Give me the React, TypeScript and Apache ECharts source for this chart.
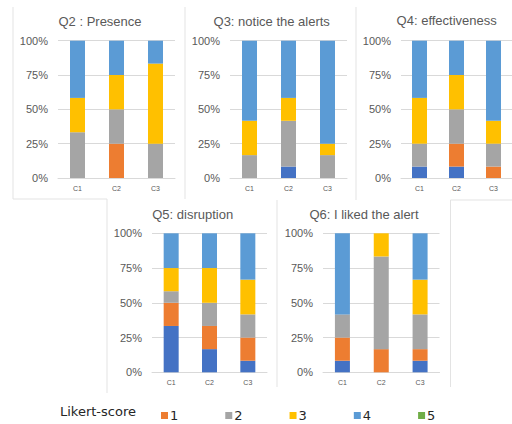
import React, { useEffect, useRef } from "react";
import * as echarts from "echarts";

const categories = ["C1", "C2", "C3"];
const scoreNames = ["0", "1", "2", "3", "4", "5"];
const legendNames = ["1", "2", "3", "4", "5"];
const scoreColors = ["#4472C4", "#ED7D31", "#A5A5A5", "#FFC000", "#5B9BD5", "#70AD47"];
const yTicks = [0, 25, 50, 75, 100];

const titles = ["Q2 : Presence", "Q3: notice the alerts", "Q4: effectiveness", "Q5: disruption", "Q6: I liked the alert"];

// rows: score 0 (dark blue), 1, 2, 3, 4, 5 ; columns: C1, C2, C3 (percent)
const q2 = [
  [0, 0, 0],
  [0, 25, 0],
  [33.33, 25, 25],
  [25, 25, 58.33],
  [41.67, 25, 16.67],
  [0, 0, 0],
];
const q3 = [
  [0, 8.33, 0],
  [0, 0, 0],
  [16.67, 33.33, 16.67],
  [25, 16.67, 8.33],
  [58.33, 41.67, 75],
  [0, 0, 0],
];
const q4 = [
  [8.33, 8.33, 0],
  [0, 16.67, 8.33],
  [16.67, 25, 16.67],
  [33.33, 25, 16.67],
  [41.67, 25, 58.33],
  [0, 0, 0],
];
const q5 = [
  [33.33, 16.67, 8.33],
  [16.67, 16.67, 16.67],
  [8.33, 16.67, 16.67],
  [16.67, 25, 25],
  [25, 25, 33.33],
  [0, 0, 0],
];
const q6 = [
  [8.33, 0, 8.33],
  [16.67, 16.67, 8.33],
  [16.67, 66.67, 25],
  [0, 16.67, 25],
  [58.33, 0, 33.33],
  [0, 0, 0],
];
const questions = [q2, q3, q4, q5, q6];

const grids = [
  { left: 58, top: 40.7, width: 117, height: 137.3 },
  { left: 230, top: 40.7, width: 117, height: 137.3 },
  { left: 401, top: 40.7, width: 115.5, height: 137.3 },
  { left: 152, top: 233.3, width: 115, height: 139 },
  { left: 323, top: 233.3, width: 116.5, height: 139 },
];
const titlePos = [
  { x: 100, y: 21 },
  { x: 271.7, y: 21 },
  { x: 446.7, y: 20 },
  { x: 192.7, y: 214 },
  { x: 364, y: 214 },
];

const FONT = "Liberation Sans";
const LEGEND_FONT = "DejaVu Sans";
const borderColor = "#e3e3e3";

export default function App() {
  const ref = useRef<HTMLDivElement>(null);
  useEffect(() => {
    document.body.style.margin = "0";
    if (!ref.current) return;
    const chart = echarts.init(ref.current, null, { renderer: "svg" });

    const series: any[] = [];
    questions.forEach((q, qi) => {
      q.forEach((row, si) => {
        series.push({
          name: scoreNames[si],
          type: "bar",
          stack: "q" + qi,
          xAxisIndex: qi,
          yAxisIndex: qi,
          barWidth: 15,
          data: row,
          itemStyle: { color: scoreColors[si] },
          emphasis: { disabled: true },
        });
      });
    });

    const lines = [
      [13, 7, 13, 199],
      [13, 199, 107, 199],
      [185, 7, 185, 199],
      [356, 7, 356, 200],
      [107, 199, 107, 393],
      [277, 200, 277, 387],
      [450.5, 200, 450.5, 387],
      [450.5, 200, 512, 200],
    ];

    const graphic: any[] = lines.map((l) => ({
      type: "line",
      shape: { x1: l[0], y1: l[1], x2: l[2], y2: l[3] },
      style: { stroke: borderColor, lineWidth: 1 },
      silent: true,
    }));
    titles.forEach((t, i) => {
      graphic.push({
        type: "text",
        x: titlePos[i].x,
        y: titlePos[i].y,
        style: {
          text: t,
          fill: "#595959",
          fontSize: 13,
          fontFamily: FONT,
          align: "center",
          verticalAlign: "middle",
        },
      });
    });
    graphic.push({
      type: "text",
      x: 60,
      y: 411,
      style: {
        text: "Likert-score",
        fill: "#262626",
        fontSize: 13,
        fontFamily: LEGEND_FONT,
        align: "left",
        verticalAlign: "middle",
      },
    });

    chart.setOption({
      animation: false,
      backgroundColor: "#ffffff",
      grid: grids.map((g) => ({ ...g, containLabel: false })),
      xAxis: grids.map((_, i) => ({
        type: "category",
        gridIndex: i,
        data: categories,
        axisLine: { lineStyle: { color: "#d9d9d9" } },
        axisTick: { show: false },
        axisLabel: { color: "#595959", fontSize: 7, margin: 7, fontFamily: FONT },
      })),
      yAxis: grids.map((_, i) => ({
        type: "value",
        gridIndex: i,
        min: yTicks[0],
        max: yTicks[yTicks.length - 1],
        interval: 25,
        axisLine: { show: false },
        axisTick: { show: false },
        splitLine: { lineStyle: { color: "#d9d9d9" } },
        axisLabel: {
          color: "#595959",
          fontSize: 11,
          margin: 10,
          fontFamily: FONT,
          formatter: "{value}%",
        },
      })),
      legend: {
        data: legendNames,
        left: 156,
        top: 404,
        icon: "rect",
        itemWidth: 7,
        itemHeight: 7,
        itemGap: 47,
        textStyle: { color: "#262626", fontSize: 13, fontFamily: LEGEND_FONT, padding: [0, 0, 0, -3] },
        selectedMode: false,
      },
      graphic,
      series,
    });
    return () => chart.dispose();
  }, []);
  return <div ref={ref} style={{ width: 512, height: 424 }} />;
}
